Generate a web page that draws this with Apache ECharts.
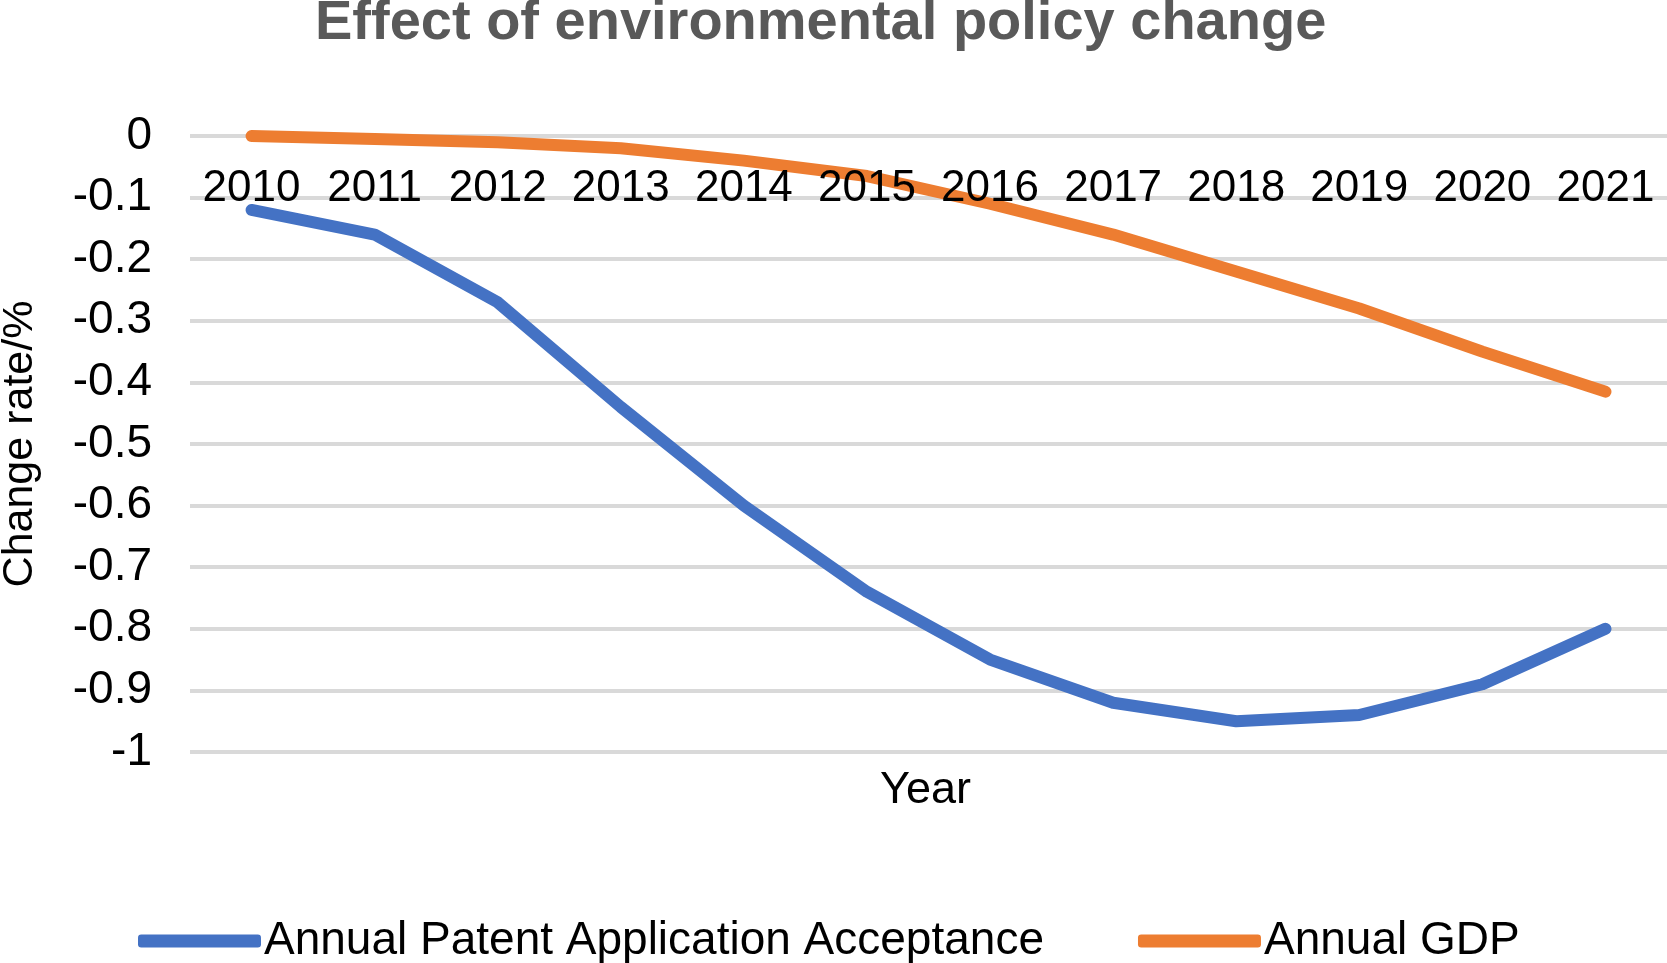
<!DOCTYPE html>
<html><head><meta charset="utf-8">
<script src="https://cdn.jsdelivr.net/npm/echarts@6/dist/echarts.min.js"></script>
<style>html,body{margin:0;padding:0;background:#fff}#c{width:1667px;height:963px}</style>
</head><body><div id="c"></div>
<script>
const years = ['2010','2011','2012','2013','2014','2015','2016','2017','2018','2019','2020','2021'];
const patentValues = [-0.12,-0.16,-0.27,-0.44,-0.60,-0.74,-0.85,-0.92,-0.95,-0.94,-0.89,-0.80];
const gdpValues = [0,-0.005,-0.01,-0.02,-0.04,-0.065,-0.11,-0.16,-0.22,-0.28,-0.35,-0.415];
const seriesNames = ['Annual Patent Application Acceptance','Annual GDP'];
const chartTitle = 'Effect of environmental policy change';
const yName = 'Change rate/%';
const xName = 'Year';

const F = 'Liberation Sans, Arial, sans-serif';
const chart = echarts.init(document.getElementById('c'));
chart.setOption({
  animation:false,
  backgroundColor:'#fff',
  title:[
    {text:chartTitle,left:310,top:-9,textStyle:{fontFamily:F,fontWeight:'bold',fontSize:56,color:'#595959'}},
    {text:xName,top:768,padding:0,left:880,textStyle:{fontFamily:F,fontWeight:'normal',fontSize:45,color:'#000'}}
  ],
  grid:{left:190,right:0,top:136,bottom:211,containLabel:false,outerBoundsMode:'none'},
  legend:{
    left:133,top:913,itemWidth:123,itemHeight:13,itemGap:94,icon:'roundRect',
    textStyle:{fontFamily:F,fontSize:46,color:'#000',padding:[0,0,0,-2]},
    data:seriesNames
  },
  xAxis:{
    type:'category',data:years,position:'top',boundaryGap:true,z:10,
    axisLine:{show:false},axisTick:{show:false},
    axisLabel:{inside:true,interval:0,hideOverlap:false,margin:31,fontFamily:F,fontSize:44,color:'#000'}
  },
  yAxis:{
    type:'value',min:-1,max:0,interval:0.1,
    name:yName,nameLocation:'middle',nameGap:148,nameRotate:90,
    nameTextStyle:{fontFamily:F,fontSize:43,color:'#000'},
    axisLine:{show:false},axisTick:{show:false},
    axisLabel:{margin:38,fontFamily:F,fontSize:46,color:'#000'},
    splitLine:{lineStyle:{color:'#D9D9D9',width:4}}
  },
  series:[
    {name:seriesNames[0],type:'line',data:patentValues,showSymbol:false,symbol:'none',
     itemStyle:{color:'#4472C4'},lineStyle:{color:'#4472C4',width:12,cap:'round',join:'round'}},
    {name:seriesNames[1],type:'line',data:gdpValues,showSymbol:false,symbol:'none',
     itemStyle:{color:'#ED7D31'},lineStyle:{color:'#ED7D31',width:12,cap:'round',join:'round'}}
  ]
});
</script></body></html>
